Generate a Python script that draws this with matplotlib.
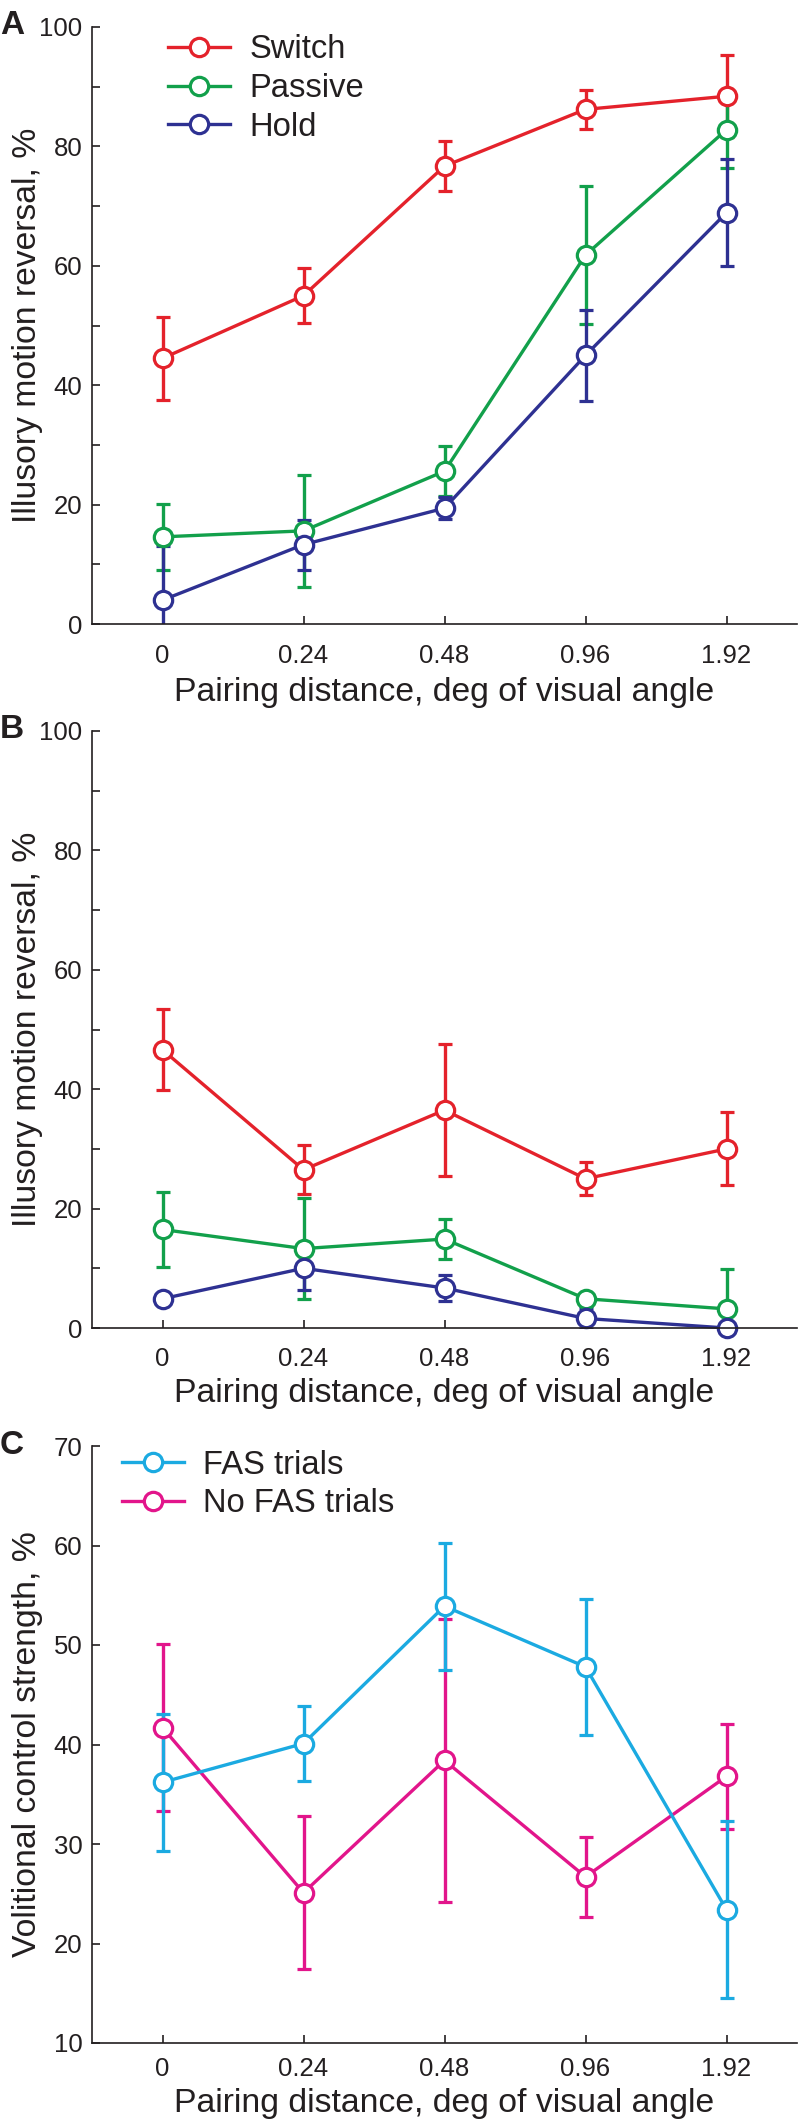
import matplotlib
matplotlib.use("Agg")
import matplotlib.pyplot as plt
import numpy as np

plt.rcParams['font.family'] = ['Liberation Sans', 'DejaVu Sans']

# ---------------- data ----------------
x_labels = ['0', '0.24', '0.48', '0.96', '1.92']

# Panel A
switch_A = [44.5, 55.0, 76.7, 86.2, 88.4]
switch_A_err = [7.0, 4.6, 4.2, 3.3, 6.9]
passive_A = [14.6, 15.6, 25.6, 61.8, 82.8]
passive_A_err = [5.5, 9.4, 4.2, 11.6, 6.5]
hold_A = [4.0, 13.3, 19.4, 45.0, 68.9]
hold_A_err = [9.0, 4.2, 1.8, 7.6, 9.0]

# Panel B
switch_B = [46.6, 26.5, 36.5, 25.0, 30.0]
switch_B_err = [6.8, 4.1, 11.0, 2.8, 6.1]
passive_B = [16.5, 13.3, 14.9, 4.9, 3.2]
passive_B_err = [6.2, 8.4, 3.4, 0.0, 6.7]
hold_B = [4.9, 10.0, 6.7, 1.6, 0.0]
hold_B_err = [0.0, 3.6, 2.2, 1.7, 0.0]

# Panel C
fas_C = [36.2, 40.1, 53.9, 47.8, 23.4]
fas_C_err = [6.9, 3.75, 6.4, 6.8, 8.9]
nofas_C = [41.7, 25.1, 38.4, 26.7, 36.8]
nofas_C_err = [8.4, 7.7, 14.2, 4.0, 5.3]

legend_A = ['Switch', 'Passive', 'Hold']
legend_C = ['FAS trials', 'No FAS trials']

# ---------------- style ----------------
RED = '#E4222B'
GREEN = '#12A04B'
BLUE = '#2E3192'
CYAN = '#1BAAE1'
MAGENTA = '#E2158B'
INK = '#231F20'

W, H = 800, 2124
fig = plt.figure(figsize=(W / 100, H / 100), dpi=100)

def make_ax(top, bottom):
    return fig.add_axes([92 / W, (H - bottom) / H, 705 / W, (bottom - top) / H])

def series(ax, y, err, color):
    x = np.arange(len(y))
    cont = ax.errorbar(x, y, yerr=err, fmt='-o', color=color, lw=2.4,
                       ms=13.2, mew=2.3, mfc='white', mec=color,
                       elinewidth=2.4, capsize=4.8, capthick=2.4)
    cont[0].set_clip_on(False)
    return cont[0]

def style_ax(ax, ylim, yticks, ylabels, ylabel, tickpad, xlabel_y):
    ax.set_xlim(-0.5, 4.5)
    ax.set_ylim(*ylim)
    ax.set_xticks(np.arange(len(x_labels)))
    ax.set_xticklabels(x_labels)
    ax.set_yticks(yticks)
    ax.set_yticklabels(ylabels)
    for s in ['top', 'right']:
        ax.spines[s].set_visible(False)
    for s in ['left', 'bottom']:
        ax.spines[s].set_linewidth(1.2)
        ax.spines[s].set_color(INK)
    ax.tick_params(axis='both', direction='in', length=5.5, width=1.2,
                   color=INK, labelcolor=INK, labelsize=18.5)
    ax.tick_params(axis='y', pad=7)
    ax.tick_params(axis='x', pad=tickpad)
    ax.set_xlabel('Pairing distance, deg of visual angle', fontsize=24.3, color=INK)
    ax.xaxis.set_label_coords(0.5, xlabel_y)
    ax.set_ylabel(ylabel, fontsize=24.3, color=INK)
    ax.yaxis.set_label_coords(-0.0695, 0.5)

def add_legend(ax, handles, labels, xanchor, yanchor):
    ax.legend(handles=handles, labels=labels, loc='upper left',
              bbox_to_anchor=(xanchor, yanchor), frameon=False, fontsize=23.6,
              handlelength=1.9, handletextpad=0.58, borderpad=0,
              borderaxespad=0, labelspacing=0.24, numpoints=1, labelcolor=INK)

yt100 = list(range(0, 101, 10))
yl100 = [str(v) if v % 20 == 0 else '' for v in yt100]

# ---------------- Panel A ----------------
axA = make_ax(27, 624)
hA1 = series(axA, switch_A, switch_A_err, RED)
hA2 = series(axA, passive_A, passive_A_err, GREEN)
hA3 = series(axA, hold_A, hold_A_err, BLUE)
style_ax(axA, (0, 100), yt100, yl100, 'Illusory motion reversal, %', 14.5, -0.0888)
add_legend(axA, [hA1, hA2, hA3], legend_A, 0.108, 0.988)

# ---------------- Panel B ----------------
axB = make_ax(731, 1328)
series(axB, switch_B, switch_B_err, RED)
series(axB, passive_B, passive_B_err, GREEN)
series(axB, hold_B, hold_B_err, BLUE)
style_ax(axB, (0, 100), yt100, yl100, 'Illusory motion reversal, %', 13.5, -0.0838)

# ---------------- Panel C ----------------
axC = make_ax(1446, 2043)
hC2 = series(axC, nofas_C, nofas_C_err, MAGENTA)
hC1 = series(axC, fas_C, fas_C_err, CYAN)
ytC = list(range(10, 71, 10))
style_ax(axC, (10, 70), ytC, [str(v) for v in ytC], 'Volitional control strength, %', 10, -0.0754)
add_legend(axC, [hC1, hC2], legend_C, 0.0426, 0.994)

# ---------------- panel letters ----------------
for letter, base in [('A', 34), ('B', 738), ('C', 1454)]:
    fig.text(0.0, (H - base) / H, letter, ha='left', va='baseline',
             fontsize=24, fontweight='bold', color=INK)

fig.savefig('out.png', dpi=100, facecolor='white')
